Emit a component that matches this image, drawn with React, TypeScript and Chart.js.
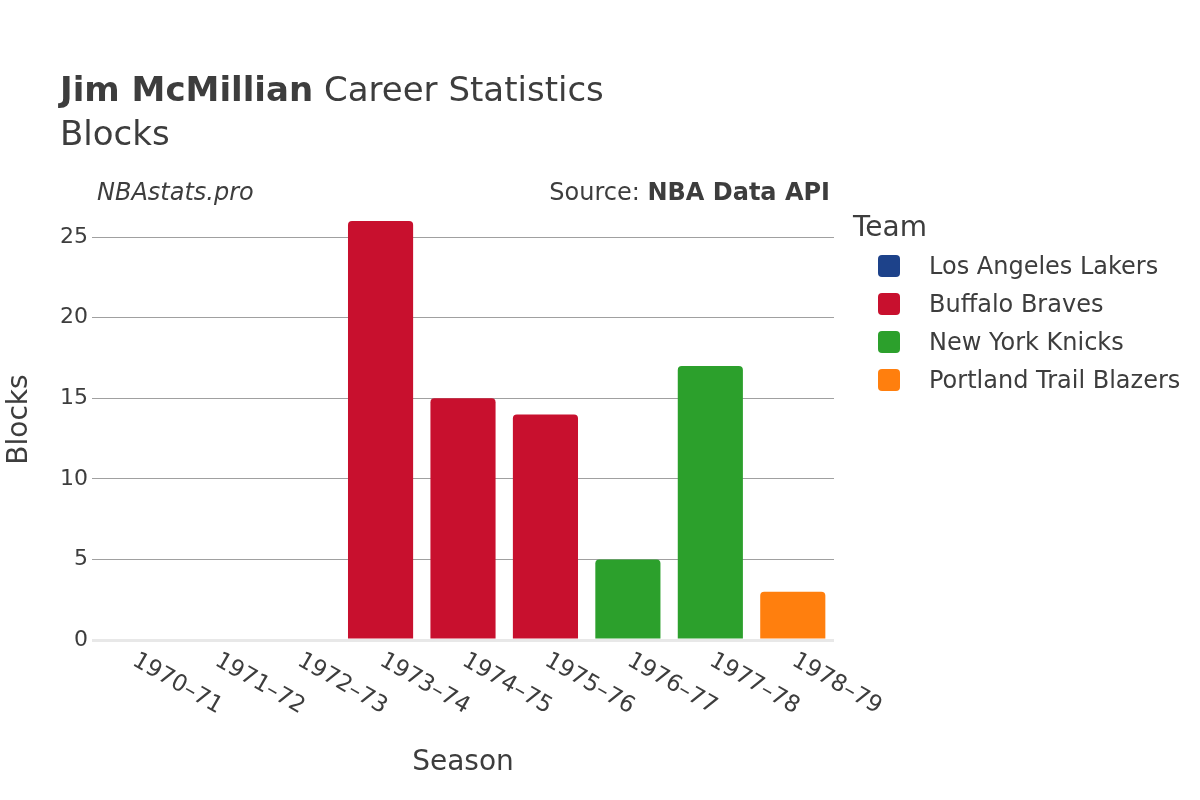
import React, { useEffect, useRef } from "react";
import { Chart, registerables } from "chart.js";

Chart.register(...registerables);

const seasons = ["1970–71", "1971–72", "1972–73", "1973–74", "1974–75", "1975–76", "1976–77", "1977–78", "1978–79"];
const teams = ["Los Angeles Lakers", "Buffalo Braves", "New York Knicks", "Portland Trail Blazers"];
const teamColors = ["#1d428a", "#c8102e", "#2ca02c", "#ff7f0e"];
const lakersBlocks = [0, 0, 0, null, null, null, null, null, null];
const bravesBlocks = [null, null, null, 26, 15, 14, null, null, null];
const knicksBlocks = [null, null, null, null, null, null, 5, 17, null];
const blazersBlocks = [null, null, null, null, null, null, null, null, 3];
const yTicks = [0, 5, 10, 15, 20, 25];
const yMax = 27.37;

const FONT = "'DejaVu Sans', sans-serif";
const TEXT = "#3d3d3d";

export default function App() {
  const ref = useRef<HTMLCanvasElement | null>(null);
  useEffect(() => {
    document.body.style.margin = "0";
    const canvas = ref.current!;
    const series = [lakersBlocks, bravesBlocks, knicksBlocks, blazersBlocks];
    const overlay = {
      id: "overlay",
      afterDraw(chart: any) {
        const ctx = chart.ctx as CanvasRenderingContext2D;
        const area = chart.chartArea;
        ctx.save();
        ctx.fillStyle = TEXT;
        ctx.textBaseline = "alphabetic";
        ctx.textAlign = "left";
        ctx.font = `bold 34px ${FONT}`;
        const bold = "Jim McMillian";
        ctx.fillText(bold, 60, 101);
        const bw = ctx.measureText(bold).width;
        ctx.font = `34px ${FONT}`;
        ctx.fillText(" Career Statistics", 60 + bw, 101);
        ctx.fillText("Blocks", 60, 145);

        ctx.font = `italic 24px ${FONT}`;
        ctx.fillText("NBAstats.pro", 97, 200);
        ctx.textAlign = "right";
        ctx.font = `bold 24px ${FONT}`;
        const api = "NBA Data API";
        ctx.fillText(api, 830, 200);
        const aw = ctx.measureText(api).width;
        ctx.font = `24px ${FONT}`;
        ctx.fillText("Source: ", 830 - aw, 200);

        // axis titles
        ctx.textAlign = "center";
        ctx.font = `28px ${FONT}`;
        ctx.fillText("Season", (area.left + area.right) / 2, 770);
        ctx.save();
        ctx.translate(27, (area.top + area.bottom) / 2);
        ctx.rotate(-Math.PI / 2);
        ctx.fillText("Blocks", 0, 0);
        ctx.restore();

        // x tick labels
        const xs = chart.scales.x;
        ctx.font = `23px ${FONT}`;
        ctx.textAlign = "left";
        ctx.textBaseline = "middle";
        seasons.forEach((s, i) => {
          const px = xs.getPixelForValue(i);
          ctx.save();
          ctx.translate(px + 1, area.bottom + 19);
          ctx.rotate(Math.PI / 6);
          ctx.fillText(s, 0, 0);
          ctx.restore();
        });

        // legend
        ctx.textAlign = "left";
        ctx.textBaseline = "alphabetic";
        ctx.font = `28px ${FONT}`;
        ctx.fillText("Team", 853, 236);
        ctx.font = `24px ${FONT}`;
        teams.forEach((t, i) => {
          const cy = 266 + i * 38;
          ctx.fillStyle = teamColors[i];
          ctx.beginPath();
          (ctx as any).roundRect(878, cy - 11, 22, 22, 4);
          ctx.fill();
          ctx.fillStyle = TEXT;
          ctx.textBaseline = "middle";
          ctx.fillText(t, 929, cy + 2);
        });
        ctx.restore();
      },
    };
    const chart = new Chart(canvas, {
      type: "bar",
      data: {
        labels: seasons,
        datasets: teams.map((t, i) => ({
          label: t,
          data: series[i] as any,
          backgroundColor: teamColors[i],
          borderRadius: { topLeft: 4, topRight: 4, bottomLeft: 0, bottomRight: 0 },
          borderSkipped: "bottom",
          categoryPercentage: 1,
          barPercentage: 0.79,
        })),
      },
      options: {
        responsive: false,
        animation: false,
        layout: { padding: { left: 0, right: 366, top: 199, bottom: 0 } },
        plugins: { legend: { display: false }, tooltip: { enabled: false } },
        scales: {
          x: {
            stacked: true,
            grid: { display: false },
            border: { display: false },
            ticks: { display: false },
            afterFit: (s: any) => { s.height = 160; },
          },
          y: {
            stacked: true,
            min: 0,
            max: yMax,
            afterBuildTicks: (s: any) => { s.ticks = yTicks.map((v) => ({ value: v })); },
            afterFit: (s: any) => { s.width = 92; },
            border: { display: false },
            grid: {
              drawTicks: false,
              color: (c: any) => (c.tick && c.tick.value === 0 ? "#e8e8e8" : "#a0a0a0"),
              lineWidth: (c: any) => (c.tick && c.tick.value === 0 ? 3 : 1),
            },
            ticks: {
              padding: 4,
              color: TEXT,
              font: { family: FONT, size: 22 },
            },
          },
        },
      },
      plugins: [overlay],
    });
    return () => chart.destroy();
  }, []);
  return (
    <canvas
      ref={ref}
      width={1200}
      height={800}
      style={{ position: "fixed", left: 0, top: 0, width: 1200, height: 800, background: "#fff" }}
    />
  );
}
